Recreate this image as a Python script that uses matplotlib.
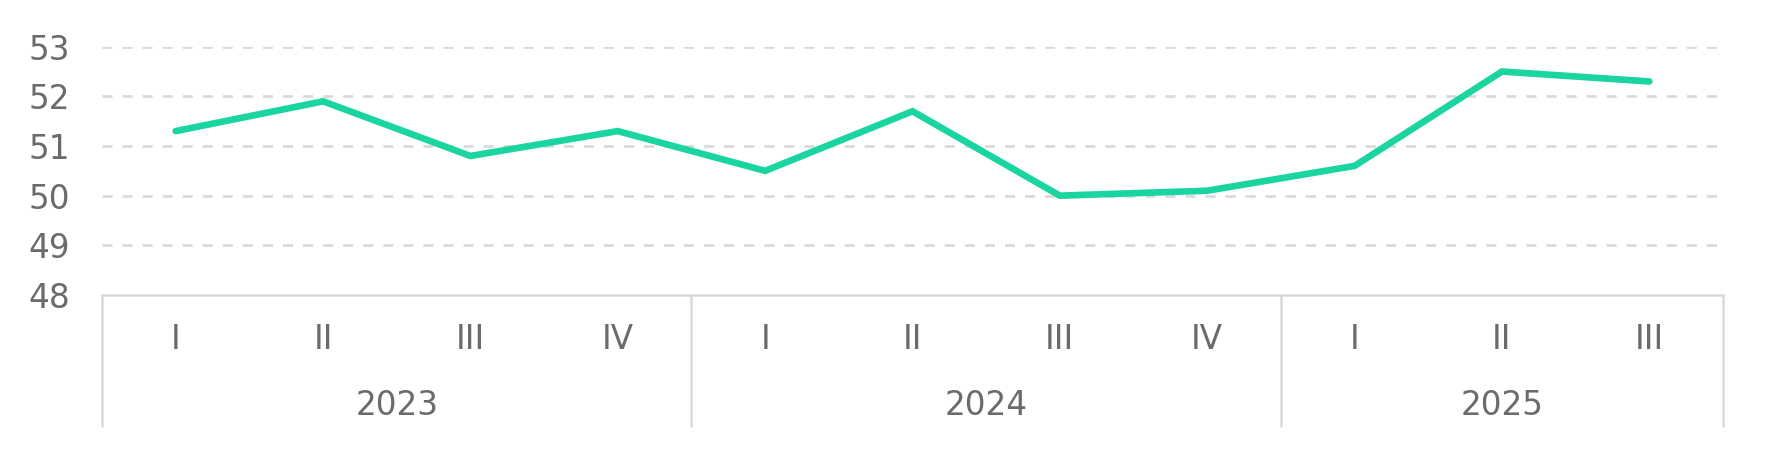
import numpy as np
import matplotlib.pyplot as plt

# data
years = ['2023', '2024', '2025']
quarters = ['I', 'II', 'III', 'IV', 'I', 'II', 'III', 'IV', 'I', 'II', 'III']
quarter_year = ['2023'] * 4 + ['2024'] * 4 + ['2025'] * 3
values = [51.3, 51.9, 50.8, 51.3, 50.5, 51.7, 50.0, 50.1, 50.6, 52.5, 52.3]

W, H, DPI = 1771, 449, 100
text_col = '#6b6b6b'
grid_col = '#d9d9d9'
line_col = '#1ad5a0'
fs = 23.5

fig = plt.figure(figsize=(W / DPI, H / DPI), dpi=DPI)
# axes box in pixels: x 102..1723, y 46.7..295 (from top)
left, right, top, bottom = 102, 1723, 46.7, 295
ax = fig.add_axes([left / W, (H - bottom) / H, (right - left) / W, (bottom - top) / H])

x = np.arange(len(values))
ax.plot(x, values, color=line_col, lw=4.8, solid_capstyle='round',
        solid_joinstyle='miter', clip_on=False, zorder=3)

ax.set_xlim(-0.5, len(values) - 0.5)
ax.set_ylim(48, 53)
ax.set_yticks(range(48, 54))
ax.tick_params(axis='y', length=0, pad=23, labelsize=fs, labelcolor=text_col)
ax.set_xticks([])

# dashed gridlines (not at the baseline)
for v in range(49, 54):
    ax.axhline(v, color=grid_col, lw=1.9, dashes=(3.8, 3.8), zorder=1)

for s in ax.spines.values():
    s.set_visible(False)
ax.axhline(48, color=grid_col, lw=1.8, zorder=2, clip_on=False)

# two-level category axis
tr = ax.get_xaxis_transform()
for i, q in enumerate(quarters):
    ax.text(i, -0.181, q, transform=tr, ha='center', va='center',
            fontsize=fs, color=text_col)

start = 0
for yr in years:
    n = quarter_year.count(yr)
    ax.text(start + (n - 1) / 2, -0.446, yr, transform=tr, ha='center',
            va='center', fontsize=fs, color=text_col)
    start += n

bounds = [-0.5]
acc = -0.5
for yr in years:
    acc += quarter_year.count(yr)
    bounds.append(acc)
for b in bounds:
    ax.plot([b, b], [0, -0.532], transform=tr, color=grid_col, lw=1.8,
            clip_on=False, solid_capstyle='butt')

fig.savefig('out.png', dpi=DPI)
